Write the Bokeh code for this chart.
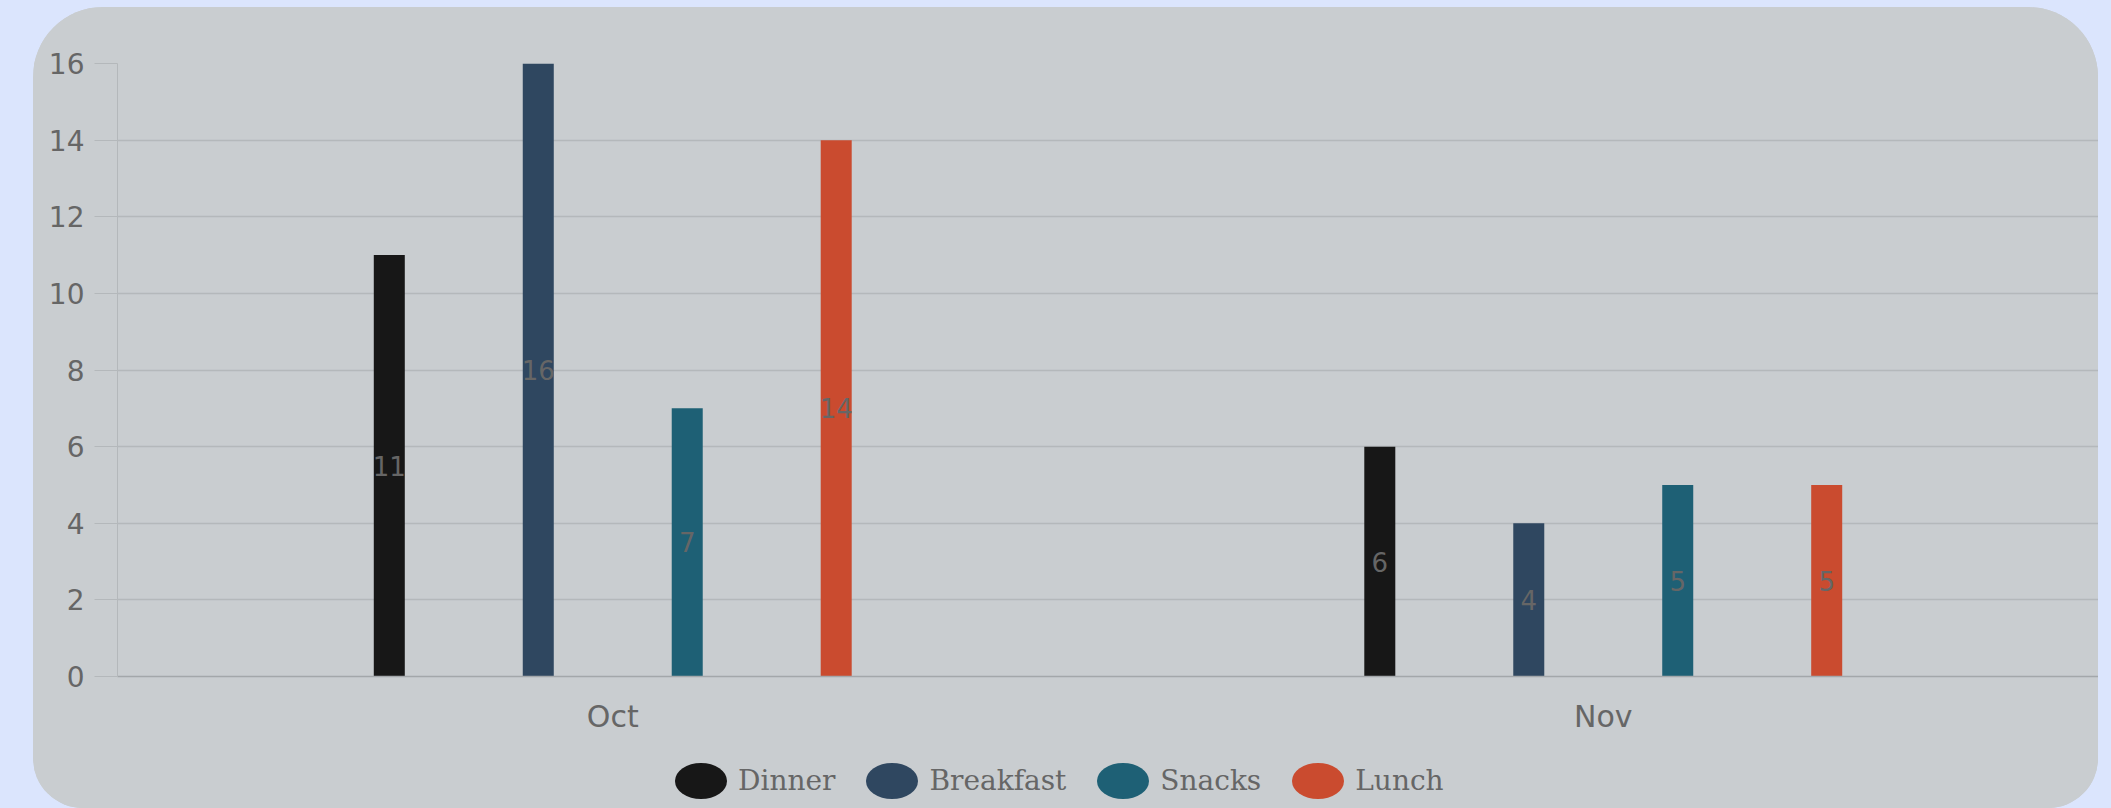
from bokeh.plotting import figure
from bokeh.layouts import column
from bokeh.models import (ColumnDataSource, FactorRange, LabelSet, Legend, LegendItem,
                          FixedTicker, Range1d)
from bokeh.transform import dodge
from bokeh.core.properties import value
from bokeh.embed import file_html
from bokeh.resources import INLINE

# ---- data ----
months = ["Oct", "Nov"]
meals = ["Dinner", "Breakfast", "Snacks", "Lunch"]
dinner = [11, 6]
breakfast = [16, 4]
snacks = [7, 5]
lunch = [14, 5]
y_ticks = [0, 2, 4, 6, 8, 10, 12, 14, 16]

# ---- styles ----
colors = ["#171717", "#2f4760", "#1e6075", "#ca4b2f"]
offsets = [-0.2256, -0.0752, 0.0752, 0.2256]
bar_width = 0.0313
PANEL = "#c9cdd0"
PAGE_BG = "#dbe5fd"
TEXT = "#666666"
GRID = "#b4b8bb"
ZERO = "#a3a7aa"

series = {"Dinner": dinner, "Breakfast": breakfast, "Snacks": snacks, "Lunch": lunch}
data = {"month": months}
for name in meals:
    data[name] = series[name]
    data[name + "_mid"] = [v / 2 for v in series[name]]
    data[name + "_txt"] = [str(v) for v in series[name]]
src = ColumnDataSource(data)

p = figure(x_range=FactorRange(*months), y_range=Range1d(y_ticks[0], y_ticks[-1]),
           width=2065, height=745, output_backend="svg", toolbar_location=None,
           min_border_left=84, min_border_right=0, min_border_top=56, min_border_bottom=76)
p.background_fill_color = PANEL
p.border_fill_color = PANEL
p.outline_line_color = None

for name, col, off in zip(meals, colors, offsets):
    xd = dodge("month", off, range=p.x_range)
    p.vbar(x=xd, top=name, width=bar_width, source=src, fill_color=col, line_color=None)
    lbl = LabelSet(x=xd, y=name + "_mid", text=name + "_txt", source=src,
                   text_align="center", text_baseline="middle", text_color=TEXT,
                   text_font=value("DejaVu Sans"), text_font_size="26px")
    p.add_layout(lbl)

# y axis
p.yaxis.ticker = FixedTicker(ticks=y_ticks)
p.yaxis.major_tick_out = 23
p.yaxis.major_tick_in = 0
p.yaxis.major_tick_line_color = GRID
p.yaxis.minor_tick_line_color = None
p.yaxis.axis_line_color = GRID
p.yaxis.major_label_standoff = 10
p.yaxis.major_label_text_font = "DejaVu Sans"
p.yaxis.major_label_text_font_size = "28px"
p.yaxis.major_label_text_color = TEXT

# x axis
p.xaxis.major_tick_line_color = None
p.xaxis.minor_tick_line_color = None
p.xaxis.axis_line_color = ZERO
p.xaxis.axis_line_width = 1.5
p.xaxis.major_label_standoff = 16
p.xaxis.major_label_text_font = "DejaVu Sans"
p.xaxis.major_label_text_font_size = "30px"
p.xaxis.major_label_text_color = TEXT

p.xgrid.visible = False
p.ygrid.ticker = FixedTicker(ticks=y_ticks)
p.ygrid.grid_line_color = GRID
p.ygrid.grid_line_width = 1.5

# ---- legend strip (own figure so it is not clipped by the bar frame) ----
pl = figure(width=2065, height=56, output_backend="svg", toolbar_location=None,
            x_range=Range1d(1, 2), y_range=Range1d(1, 2),
            x_axis_location=None, y_axis_location=None,
            min_border_left=0, min_border_right=0, min_border_top=0, min_border_bottom=0)
pl.background_fill_color = PANEL
pl.border_fill_color = PANEL
pl.outline_line_color = None
pl.xgrid.visible = False
pl.ygrid.visible = False

legend_items = []
for name, col in zip(meals, colors):
    # swatch renderer kept outside the strip's visible range: only its legend icon shows
    swatch_src = ColumnDataSource(dict(x=[0], y=[0]))
    r = pl.ellipse(x="x", y="y", width=52, height=36, width_units="screen",
                   height_units="screen", source=swatch_src, fill_color=col, line_color=None)
    legend_items.append(LegendItem(label=name, renderers=[r]))

legend = Legend(items=legend_items, location=(551, -4.5), orientation="horizontal",
                glyph_width=65, glyph_height=65, label_standoff=5, spacing=24,
                padding=0, margin=0, border_line_color=None, background_fill_alpha=0,
                label_text_font="DejaVu Serif", label_text_font_size="28px",
                label_text_color=TEXT)
pl.add_layout(legend)

layout = column(p, pl, spacing=0, margin=(7, 0, 0, 33),
                styles={"border-radius": "70px 70px 50px 50px", "overflow": "hidden",
                        "background-color": PANEL})

html = file_html(layout, INLINE, title="chart")
html = html.replace("</head>", "<style>html,body{background:%s;}</style></head>" % PAGE_BG, 1)
open("out.html", "w").write(html)
